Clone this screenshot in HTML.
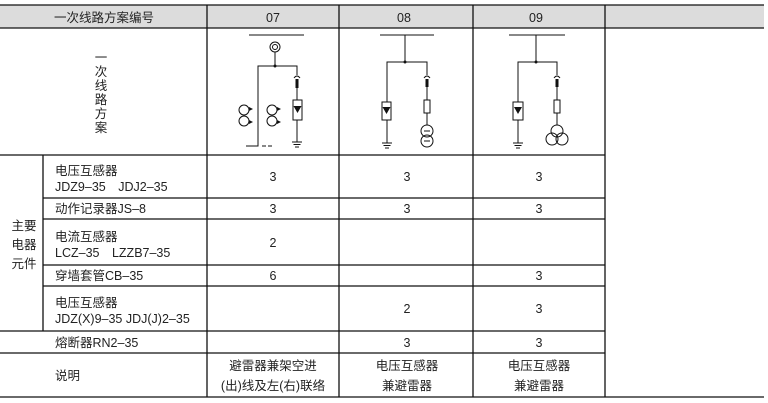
<!DOCTYPE html>
<html><head><meta charset="utf-8"><style>
html,body{margin:0;padding:0;background:#fff;}
svg{display:block;}
text{font-family:"Liberation Sans","Noto Sans CJK SC",sans-serif;font-size:12.5px;fill:#222;}
</style></head><body>
<svg width="768" height="403" viewBox="0 0 768 403" xmlns="http://www.w3.org/2000/svg">
<rect x="0" y="5" width="764" height="23" fill="#dcdcdc"/>
<g stroke="#111" stroke-width="1.3" fill="none">
<line x1="0" y1="5" x2="764" y2="5"/>
<line x1="0" y1="28" x2="764" y2="28"/>
<line x1="207" y1="5" x2="207" y2="397"/>
<line x1="339" y1="5" x2="339" y2="397"/>
<line x1="473" y1="5" x2="473" y2="397"/>
<line x1="605" y1="5" x2="605" y2="397"/>
<line x1="43" y1="155" x2="43" y2="331"/>
<line x1="0" y1="155" x2="605" y2="155"/>
<line x1="43" y1="198" x2="605" y2="198"/>
<line x1="43" y1="219" x2="605" y2="219"/>
<line x1="43" y1="265" x2="605" y2="265"/>
<line x1="43" y1="286" x2="605" y2="286"/>
<line x1="0" y1="331" x2="605" y2="331"/>
<line x1="0" y1="353" x2="605" y2="353"/>
<line x1="0" y1="397" x2="764" y2="397"/>
</g>
<!-- diagrams -->
<g stroke="#111" stroke-width="1" fill="none">
<!-- 07 -->
<line x1="249" y1="35" x2="304" y2="35"/>
<circle cx="275" cy="47" r="5"/><circle cx="275" cy="47" r="2.5"/>
<line x1="275" y1="52" x2="275" y2="66"/>
<polyline points="297,75 297,66 258,66 258,146 246,146"/>
<line x1="262" y1="146" x2="266" y2="146"/><line x1="268" y1="146" x2="272" y2="146"/>
<path d="M294,78 Q297,74 300,78"/>
<line x1="297" y1="88" x2="297" y2="142"/>
<rect x="293" y="100" width="9" height="20" fill="#fff"/>
<line x1="292" y1="142" x2="302" y2="142"/><line x1="293.5" y1="144.5" x2="300.5" y2="144.5"/><line x1="295" y1="147" x2="299" y2="147"/>
<circle cx="244" cy="110" r="5"/><circle cx="244" cy="121" r="5"/>
<circle cx="272" cy="110" r="5"/><circle cx="272" cy="121" r="5"/>
<!-- 08 -->
<line x1="380" y1="35" x2="434" y2="35"/>
<line x1="405" y1="35" x2="405" y2="62"/>
<polyline points="427,75 427,62 387,62 387,143"/>
<rect x="382" y="102" width="9" height="18" fill="#fff"/>
<line x1="382" y1="143" x2="392" y2="143"/><line x1="383.5" y1="145.5" x2="390.5" y2="145.5"/><line x1="385" y1="148" x2="389" y2="148"/>
<path d="M424,78 Q427,74 430,78"/>
<line x1="427" y1="86" x2="427" y2="125"/>
<rect x="424" y="100" width="6" height="13" fill="#fff"/>
<circle cx="427" cy="131" r="6"/><circle cx="427" cy="141" r="6"/>
<line x1="424" y1="131" x2="430" y2="131"/><line x1="424" y1="141" x2="430" y2="141"/>
<!-- 09 -->
<line x1="509" y1="35" x2="565" y2="35"/>
<line x1="536" y1="35" x2="536" y2="62"/>
<polyline points="557,75 557,62 518,62 518,143"/>
<rect x="513" y="102" width="10" height="18" fill="#fff"/>
<line x1="513" y1="143" x2="523" y2="143"/><line x1="514.5" y1="145.5" x2="521.5" y2="145.5"/><line x1="516" y1="148" x2="520" y2="148"/>
<path d="M554,78 Q557,74 560,78"/>
<line x1="557" y1="86" x2="557" y2="125"/>
<rect x="554" y="100" width="6" height="13" fill="#fff"/>
<circle cx="557" cy="131" r="6"/><circle cx="552" cy="139" r="6"/><circle cx="562" cy="139" r="6"/>
</g>
<g fill="#111">
<circle cx="275" cy="66" r="1.5"/><circle cx="405" cy="62" r="1.5"/><circle cx="536" cy="62" r="1.5"/>
<rect x="295.5" y="79" width="3" height="9"/><rect x="425.5" y="79" width="3" height="8"/><rect x="555.5" y="79" width="3" height="8"/>
<polygon points="293.5,106 301.5,106 297.5,113"/><polygon points="382.5,107 390.5,107 386.5,114"/><polygon points="514,107 522,107 518,114"/>
<polygon points="249,107 253,109 249,111"/><polygon points="249,120 253,122 249,124"/>
<polygon points="277,107 281,109 277,111"/><polygon points="277,120 281,122 277,124"/>
</g>
<!-- text -->
<text x="104" y="22" text-anchor="middle" font-size="13">一次线路方案编号</text>
<text x="273" y="22" text-anchor="middle" font-size="13">07</text>
<text x="404" y="22" text-anchor="middle" font-size="13">08</text>
<text x="536" y="22" text-anchor="middle" font-size="13">09</text>
<g text-anchor="middle">
<text x="101" y="62">一</text><text x="101" y="76">次</text><text x="101" y="90">线</text><text x="101" y="104">路</text><text x="101" y="118">方</text><text x="101" y="132">案</text>
<text x="24" y="230">主要</text><text x="24" y="249">电器</text><text x="24" y="268">元件</text>
</g>
<text x="55" y="175">电压互感器</text>
<text x="55" y="191">JDZ9–35　JDJ2–35</text>
<text x="55" y="213">动作记录器JS–8</text>
<text x="55" y="241">电流互感器</text>
<text x="55" y="257">LCZ–35　LZZB7–35</text>
<text x="55" y="280">穿墙套管CB–35</text>
<text x="55" y="307">电压互感器</text>
<text x="55" y="323">JDZ(X)9–35 JDJ(J)2–35</text>
<text x="55" y="347">熔断器RN2–35</text>
<text x="55" y="380">说明</text>
<g text-anchor="middle">
<text x="273" y="181">3</text><text x="407" y="181">3</text><text x="539" y="181">3</text>
<text x="273" y="213">3</text><text x="407" y="213">3</text><text x="539" y="213">3</text>
<text x="273" y="247">2</text>
<text x="273" y="280">6</text><text x="539" y="280">3</text>
<text x="407" y="313">2</text><text x="539" y="313">3</text>
<text x="407" y="347">3</text><text x="539" y="347">3</text>
<text x="273" y="370">避雷器兼架空进</text>
<text x="273" y="390">(出)线及左(右)联络</text>
<text x="407" y="370">电压互感器</text><text x="407" y="390">兼避雷器</text>
<text x="539" y="370">电压互感器</text><text x="539" y="390">兼避雷器</text>
</g>
</svg>
</body></html>
